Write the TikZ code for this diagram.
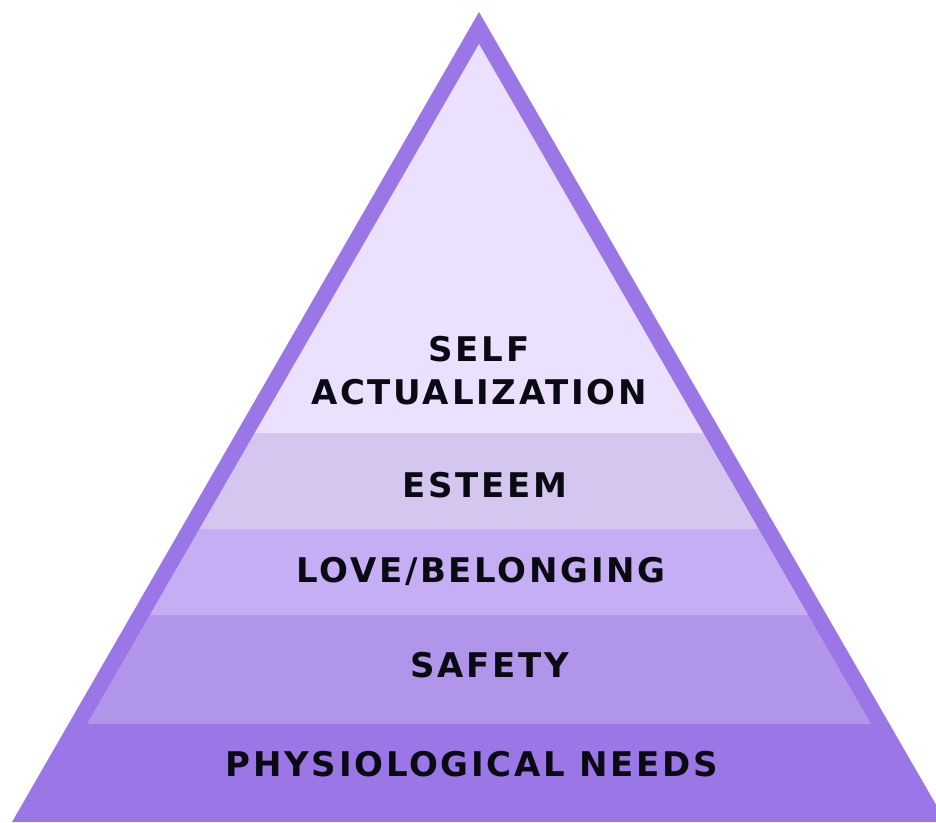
\documentclass[tikz,border=0pt]{standalone}
\usepackage{fontspec}
\newfontfamily\pyrfont{DejaVu Sans}[LetterSpace=8]
\definecolor{bordercol}{HTML}{9B76E6}
\definecolor{bandA}{HTML}{EBE0FE}
\definecolor{bandB}{HTML}{D5C6EF}
\definecolor{bandC}{HTML}{C5AEF3}
\definecolor{bandD}{HTML}{B195EB}
\definecolor{txtcol}{HTML}{0A0A12}
\begin{document}
\begin{tikzpicture}[x=1pt,y=-1pt,
  label/.style={font=\pyrfont\bfseries\fontsize{34}{43}\selectfont, text=txtcol, inner sep=0pt, align=center}]
\useasboundingbox (0,0) rectangle (936,822);
\clip (0,0) rectangle (936,822);
% outer triangle (also bottom band)
\fill[bordercol] (479,12) -- (12,822) -- (946,822) -- cycle;
% bands
\fill[bandD] (149.8,615) -- (808.2,615) -- (871,724) -- (87,724) -- cycle;
\fill[bandC] (199.4,529) -- (758.6,529) -- (808.2,615) -- (149.8,615) -- cycle;
\fill[bandB] (254.7,433) -- (703.3,433) -- (758.6,529) -- (199.4,529) -- cycle;
\fill[bandA] (479,44) -- (703.3,433) -- (254.7,433) -- cycle;
% labels
\node[label] (self) at (479,371) {SELF\\ACTUALIZATION};
\node[label] (esteem) at (485,485) {ESTEEM};
\node[label] (love) at (481,571) {LOVE/BELONGING};
\node[label] (safety) at (490,665) {SAFETY};
\node[label] (phys) at (472,764) {PHYSIOLOGICAL NEEDS};
\end{tikzpicture}
\end{document}
